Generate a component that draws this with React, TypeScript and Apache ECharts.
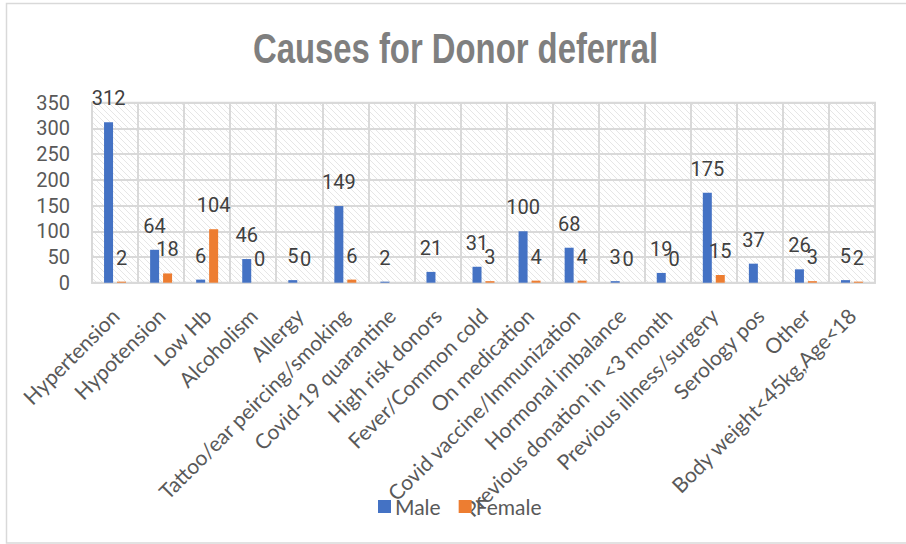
import React, { useEffect, useRef } from "react";
import * as echarts from "echarts";

const categories = [
  "Hypertension",
  "Hypotension",
  "Low Hb",
  "Alcoholism",
  "Allergy",
  "Tattoo/ear peircing/smoking",
  "Covid-19 quarantine",
  "High risk donors",
  "Fever/Common cold",
  "On medication",
  "Covid vaccine/Immunization",
  "Hormonal imbalance",
  "Previous donation in <3 month",
  "Previous illness/surgery",
  "Serology pos",
  "Other",
  "Body weight<45kg,Age<18",
];
const maleValues = [312, 64, 6, 46, 5, 149, 2, 21, 31, 100, 68, 3, 19, 175, 37, 26, 5];
const femaleValues: (number | null)[] = [2, 18, 104, 0, 0, 6, null, null, 3, 4, 4, 0, 0, 15, null, 3, 2];
const yTicks = { min: 0, max: 350, interval: 50 };
const titleText = "Causes for Donor deferral";

export default function App() {
  const ref = useRef<HTMLDivElement>(null);
  useEffect(() => {
    if (!ref.current) return;
    const chart = echarts.init(ref.current, null, { renderer: "svg" });
    const cv = document.createElement("canvas");
    cv.width = 6;
    cv.height = 6;
    const ctx = cv.getContext("2d");
    if (ctx) {
      ctx.fillStyle = "#ffffff";
      ctx.fillRect(0, 0, 6, 6);
      ctx.strokeStyle = "#e6e6e6";
      ctx.lineWidth = 1;
      ctx.beginPath();
      ctx.moveTo(0, 0);
      ctx.lineTo(6, 6);
      ctx.moveTo(-3, 3);
      ctx.lineTo(3, 9);
      ctx.moveTo(3, -3);
      ctx.lineTo(9, 3);
      ctx.stroke();
    }
    const gridLine = "#d9d9d9";
    const labelCommon = {
      show: true,
      position: "top" as const,
      distance: 14,
      fontFamily: "Roboto",
      fontSize: 20,
      color: "#404040",
    };
    chart.setOption({
      animation: false,
      backgroundColor: "#ffffff",
      graphic: [
        {
          type: "rect",
          shape: { x: 6.5, y: 3.5, width: 910, height: 539.5 },
          style: { fill: "none", stroke: "#d9d9d9", lineWidth: 1.5 },
          silent: true,
        },
        {
          type: "text",
          x: 455.5,
          y: 48,
          scaleX: 0.764,
          style: {
            text: titleText,
            x: 0,
            y: 0,
            textAlign: "center",
            textVerticalAlign: "middle",
            fontFamily: "Liberation Sans",
            fontWeight: "bold",
            fontSize: 43,
            fill: "#7f7f7f",
          },
        },
      ],
      legend: {
        left: 373,
        top: 491,
        itemWidth: 13,
        itemHeight: 13,
        itemGap: 18,
        icon: "rect",
        textStyle: { fontFamily: "Lato", fontSize: 21, color: "#595959", padding: [0, 0, 0, -1] },
        data: ["Male", "Female"],
      },
      grid: {
        left: 92,
        right: 31,
        top: 102.7,
        bottom: 261.3,
        show: true,
        borderColor: gridLine,
        borderWidth: 2,
        backgroundColor: { image: cv, repeat: "repeat" },
      },
      xAxis: {
        type: "category",
        data: categories,
        boundaryGap: true,
        axisLine: { show: true, lineStyle: { color: gridLine, width: 2 } },
        axisTick: { show: false },
        splitLine: { show: true, lineStyle: { color: gridLine, width: 2 } },
        axisLabel: {
          interval: 0,
          rotate: 45,
          margin: 29,
          verticalAlign: "middle",
          fontFamily: "Lato",
          fontSize: 21,
          color: "#595959",
        },
      },
      yAxis: {
        type: "value",
        min: yTicks.min,
        max: yTicks.max,
        interval: yTicks.interval,
        axisLine: { show: false },
        axisTick: { show: false },
        splitLine: { show: true, lineStyle: { color: gridLine, width: 2 } },
        axisLabel: { margin: 22, fontFamily: "Roboto", fontSize: 20, color: "#595959" },
      },
      series: [
        {
          name: "Male",
          type: "bar",
          data: maleValues,
          barWidth: 9,
          barGap: "44%",
          itemStyle: { color: "#4472C4" },
          label: labelCommon,
        },
        {
          name: "Female",
          type: "bar",
          data: femaleValues,
          barWidth: 9,
          itemStyle: { color: "#ED7D31" },
          label: labelCommon,
        },
      ],
    });
    return () => chart.dispose();
  }, []);
  return (
    <div
      ref={ref}
      style={{ position: "fixed", left: 0, top: 0, width: 906, height: 544 }}
    />
  );
}
